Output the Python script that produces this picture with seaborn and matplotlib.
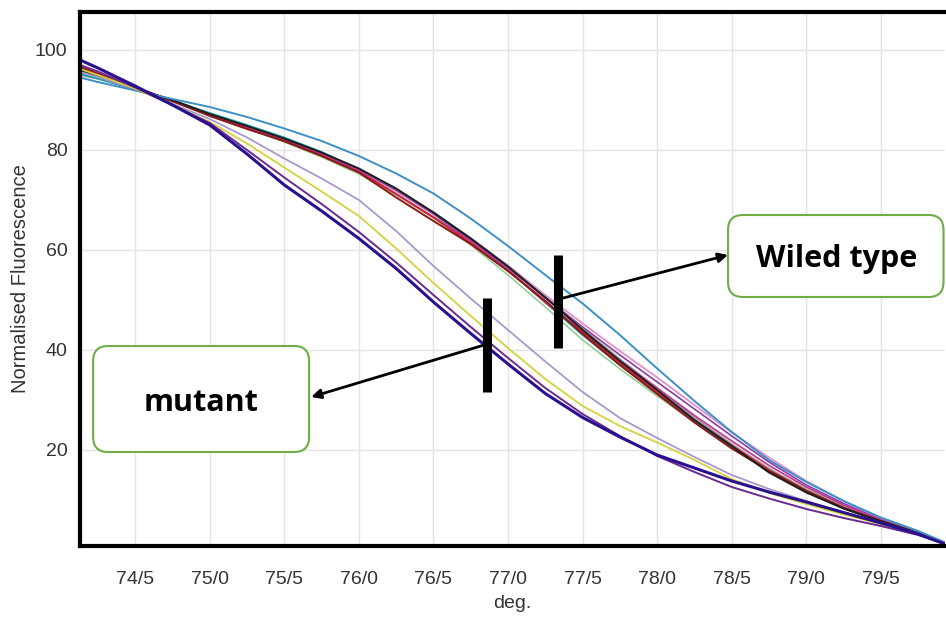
import numpy as np
import pandas as pd
import matplotlib
matplotlib.use("Agg")
import matplotlib.pyplot as plt
import seaborn as sns
from matplotlib.patches import FancyBboxPatch

# temperatures (deg.)
temps = [74.13, 74.25, 74.5, 74.75, 75.0, 75.25, 75.5, 75.75, 76.0, 76.25, 76.5, 76.75,
         77.0, 77.25, 77.5, 77.75, 78.0, 78.25, 78.5, 78.75, 79.0, 79.25, 79.5, 79.75, 79.93]

# wild type curves
wt_steelblue = [94.5, 93.6, 91.9, 90.2, 88.6, 86.6, 84.3, 81.8, 78.8, 75.3, 71.3, 66.3,
                60.8, 55.0, 49.3, 43.0, 36.3, 29.8, 23.6, 18.0, 13.6, 9.8, 6.5, 3.8, 1.5]
wt_black = [96.0, 94.8, 92.3, 90.0, 87.2, 84.8, 82.3, 79.5, 76.3, 72.3, 67.5, 62.3,
            56.7, 50.5, 44.0, 37.8, 32.0, 26.0, 20.8, 15.5, 11.5, 8.3, 5.8, 3.4, 1.3]
wt_darkred = [96.5, 95.2, 92.5, 89.8, 86.8, 84.2, 81.8, 78.8, 75.5, 70.5, 65.8, 61.2,
              55.8, 49.8, 43.2, 37.0, 31.2, 25.5, 20.3, 15.8, 11.8, 8.4, 5.6, 3.3, 1.3]
wt_magenta = [96.0, 94.9, 92.4, 89.9, 87.0, 84.5, 81.9, 79.0, 75.8, 71.2, 66.6, 61.8,
              56.0, 49.5, 43.6, 37.9, 32.4, 26.9, 21.8, 16.9, 12.6, 9.0, 6.0, 3.5, 1.4]
wt_teal = [95.2, 94.3, 92.2, 89.9, 87.4, 85.0, 82.5, 79.6, 76.0, 71.8, 67.2, 61.8,
           56.0, 49.5, 43.0, 37.0, 31.4, 25.8, 20.6, 15.8, 11.6, 8.3, 5.7, 3.4, 1.3]
wt_green = [95.5, 94.4, 92.0, 89.6, 87.0, 84.4, 81.6, 78.6, 75.2, 71.0, 66.4, 61.0,
            55.0, 48.6, 42.0, 36.2, 30.8, 25.6, 20.8, 16.2, 12.2, 8.8, 6.0, 3.5, 1.4]
wt_pink = [96.3, 95.0, 92.3, 89.7, 87.0, 84.6, 82.0, 79.2, 76.0, 71.8, 67.2, 62.2,
           56.8, 51.0, 45.3, 39.8, 34.5, 29.0, 23.5, 18.5, 13.8, 9.8, 6.4, 3.7, 1.5]
wt_purple = [95.8, 94.7, 92.2, 89.8, 87.1, 84.6, 82.1, 79.3, 76.1, 72.0, 67.3, 62.0,
             56.4, 50.4, 44.6, 39.0, 33.6, 28.2, 22.8, 17.6, 13.0, 9.3, 6.1, 3.5, 1.4]
wt_gray = [95.0, 94.2, 92.1, 89.7, 87.0, 84.7, 82.2, 79.4, 76.2, 72.1, 67.6, 62.4,
           56.9, 50.8, 44.3, 38.2, 32.3, 26.5, 21.2, 16.3, 12.0, 8.6, 5.9, 3.4, 1.3]
wt_red = [96.8, 95.4, 92.6, 89.8, 86.9, 84.3, 81.7, 78.9, 75.6, 71.2, 66.5, 61.4,
          55.8, 49.8, 43.5, 37.4, 31.6, 26.0, 20.9, 16.0, 11.9, 8.5, 5.8, 3.4, 1.3]

# mutant curves
mu_lilac = [95.6, 94.6, 92.2, 89.2, 86.2, 82.5, 78.3, 74.3, 70.0, 63.8, 56.8, 50.3,
            44.0, 37.7, 31.6, 26.4, 22.4, 18.6, 15.0, 12.2, 9.8, 7.5, 5.4, 3.3, 1.3]
mu_yellow = [96.2, 95.0, 92.3, 89.0, 85.6, 81.3, 76.5, 71.7, 66.8, 60.3, 53.4, 46.8,
             40.4, 34.2, 28.8, 24.8, 21.5, 18.0, 14.2, 11.4, 9.2, 7.1, 5.2, 3.2, 1.3]
mu_purple = [97.0, 95.7, 92.5, 89.0, 85.4, 80.0, 74.5, 69.2, 63.6, 57.5, 51.0, 44.6,
             38.4, 32.4, 27.2, 22.8, 18.8, 15.6, 12.6, 10.3, 8.2, 6.4, 4.8, 3.0, 1.2]
mu_indigo = [98.0, 96.4, 92.8, 89.0, 85.0, 79.2, 73.0, 67.8, 62.3, 56.3, 49.6, 43.3,
             37.2, 31.3, 26.5, 22.6, 19.0, 16.4, 13.8, 11.6, 9.6, 7.5, 5.4, 3.2, 1.2]

x_ticks = [74.5, 75.0, 75.5, 76.0, 76.5, 77.0, 77.5, 78.0, 78.5, 79.0, 79.5]
x_labels = ["74/5", "75/0", "75/5", "76/0", "76/5", "77/0", "77/5", "78/0", "78/5", "79/0", "79/5"]
y_ticks = [20, 40, 60, 80, 100]

curves = [
    ("wt_green", wt_green, "#93cf93", 1.2),
    ("wt_gray", wt_gray, "#9a9a9a", 1.2),
    ("wt_teal", wt_teal, "#1ba3a8", 1.3),
    ("wt_pink", wt_pink, "#e58fc8", 1.3),
    ("wt_purple", wt_purple, "#8a3d9e", 1.2),
    ("wt_magenta", wt_magenta, "#c2399c", 1.3),
    ("wt_red", wt_red, "#d3202f", 1.2),
    ("wt_darkred", wt_darkred, "#8b1a1a", 1.4),
    ("wt_black", wt_black, "#1e1e1e", 1.4),
    ("wt_steelblue", wt_steelblue, "#3d90c6", 1.4),
    ("mu_lilac", mu_lilac, "#a898cc", 1.3),
    ("mu_yellow", mu_yellow, "#d6d13e", 1.3),
    ("mu_purple", mu_purple, "#6b2a8e", 1.4),
    ("mu_indigo", mu_indigo, "#2a0f8f", 2.2),
]

rows = []
for name, vals, _, _ in curves:
    for t, v in zip(temps, vals):
        rows.append({"curve": name, "deg": t, "fluor": v})
df = pd.DataFrame(rows)

sns.set_style("white")
plt.rcParams["font.family"] = ["Liberation Sans", "DejaVu Sans"]

fig = plt.figure(figsize=(9.46, 6.23), dpi=100)
ax = fig.add_axes([80 / 946, 77 / 623, 865 / 946, 534 / 623])

for name, vals, color, lw in curves:
    sns.lineplot(data=df[df["curve"] == name], x="deg", y="fluor", color=color,
                 linewidth=lw, ax=ax, legend=False)

ax.set_xlim(74.13, 79.93)
ax.set_ylim(0.8, 107.6)
ax.set_xticks(x_ticks)
ax.set_xticklabels(x_labels)
ax.set_yticks(y_ticks)
ax.grid(True, color="#e4e4e4", linewidth=1.0)
ax.set_axisbelow(True)

for side in ["left", "bottom", "top"]:
    ax.spines[side].set_color("black")
    ax.spines[side].set_linewidth(3)
ax.spines["right"].set_visible(False)

ax.tick_params(axis="x", length=7, width=1, color="#555555", pad=11, labelsize=14, labelcolor="#333333")
ax.tick_params(axis="y", length=6, width=1, color="#555555", pad=3, labelsize=14, labelcolor="#333333")
ax.set_xlabel("deg.", fontsize=14, color="#333333", labelpad=5)
ax.set_ylabel("Normalised Fluorescence", fontsize=14.5, color="#333333")
ax.yaxis.set_label_coords(-0.058, 0.5)

# marker bars
ax.plot([76.86, 76.86], [31.6, 50.4], color="black", linewidth=6.5, solid_capstyle="butt")
ax.plot([77.335, 77.335], [40.4, 59.0], color="black", linewidth=6.5, solid_capstyle="butt")

# annotation boxes
green = "#70ad47"
box_wt = FancyBboxPatch((78.475, 50.6), 1.445, 16.4, boxstyle="round,pad=0,rounding_size=0.1",
                        mutation_aspect=30, facecolor="white", edgecolor=green, linewidth=1.5,
                        zorder=5, clip_on=False)
box_mu = FancyBboxPatch((74.218, 19.6), 1.448, 21.2, boxstyle="round,pad=0,rounding_size=0.1",
                        mutation_aspect=30, facecolor="white", edgecolor=green, linewidth=1.5,
                        zorder=5, clip_on=False)
ax.add_patch(box_wt)
ax.add_patch(box_mu)
ax.text(79.2, 58.2, "Wiled type", fontsize=22, fontweight="bold", family=["Open Sans", "DejaVu Sans"],
        ha="center", va="center", color="black", zorder=6)
ax.text(74.94, 29.4, "mutant", fontsize=22, fontweight="bold", family=["Open Sans", "DejaVu Sans"],
        ha="center", va="center", color="black", zorder=6)

# arrows
ax.annotate("", xy=(78.475, 59.0), xytext=(77.37, 50.4),
            arrowprops=dict(arrowstyle="-|>", color="black", lw=2, mutation_scale=14, shrinkA=0, shrinkB=0),
            zorder=7)
ax.annotate("", xy=(75.68, 30.6), xytext=(76.84, 41.0),
            arrowprops=dict(arrowstyle="-|>", color="black", lw=2, mutation_scale=14, shrinkA=0, shrinkB=0),
            zorder=7)

fig.savefig("out.png", dpi=100)
